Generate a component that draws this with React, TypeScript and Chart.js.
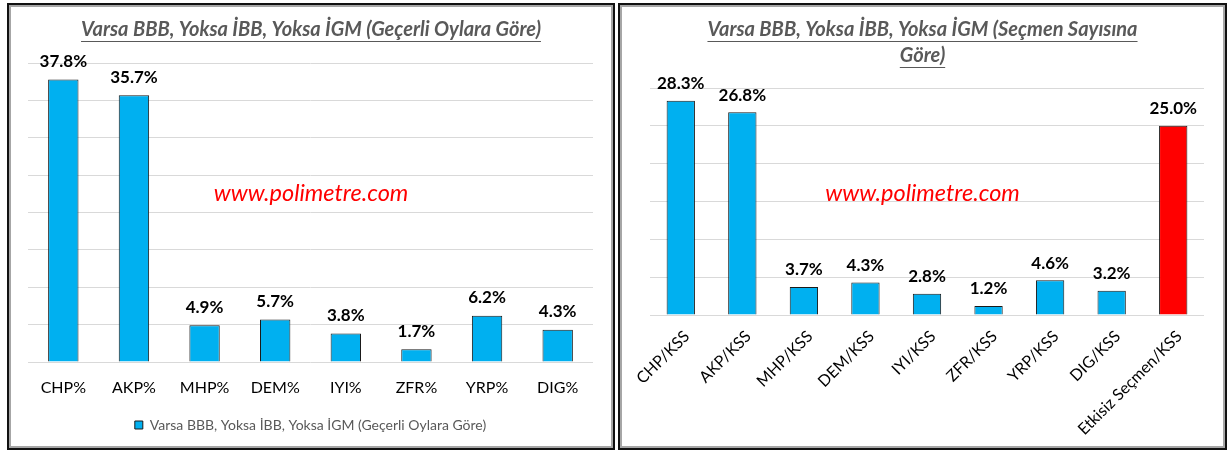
import React, { useEffect, useRef } from 'react';
import { Chart, registerables } from 'chart.js';

Chart.register(...registerables);

// ---------- data ----------
const leftTitle = ['Varsa BBB, Yoksa İBB, Yoksa İGM (Geçerli Oylara Göre)'];
const leftCategories = ['CHP%', 'AKP%', 'MHP%', 'DEM%', 'IYI%', 'ZFR%', 'YRP%', 'DIG%'];
const leftValues = [37.8, 35.7, 4.9, 5.7, 3.8, 1.7, 6.2, 4.3];
const leftLegend = 'Varsa BBB, Yoksa İBB, Yoksa İGM (Geçerli Oylara Göre)';

const rightTitle = ['Varsa BBB, Yoksa İBB, Yoksa İGM (Seçmen Sayısına', 'Göre)'];
const rightCategories = [
  'CHP/KSS', 'AKP/KSS', 'MHP/KSS', 'DEM/KSS', 'IYI/KSS',
  'ZFR/KSS', 'YRP/KSS', 'DIG/KSS', 'Etkisiz Seçmen/KSS',
];
const rightValues = [28.3, 26.8, 3.7, 4.3, 2.8, 1.2, 4.6, 3.2, 25.0];
const rightLegend = 'Varsa BBB, Yoksa İBB, Yoksa İGM (Seçmen Sayısına Göre)';

const watermarkText = 'www.polimetre.com';
const leftAxisMax = 40;
const rightAxisMax = 30;
const axisStep = 5;

// ---------- styles ----------
const BLUE = '#00B0F0';
const RED = '#FF0000';
const FONT = 'Lato, "Open Sans", sans-serif';

const decorPlugin = {
  id: 'decor',
  afterDatasetsDraw(chart: any, _args: any, opts: any) {
    const ctx = chart.ctx;
    ctx.save();
    // data labels
    ctx.font = `bold ${opts.valueSize}px ${FONT}`;
    ctx.fillStyle = '#000';
    ctx.textAlign = 'center';
    ctx.textBaseline = 'middle';
    const meta = chart.getDatasetMeta(0);
    const data = chart.data.datasets[0].data;
    meta.data.forEach((bar: any, i: number) => {
      ctx.fillText(Number(data[i]).toFixed(1) + '%', bar.x, bar.y - opts.valueGap);
    });
    // watermark
    ctx.font = `italic ${opts.wmSize}px ${FONT}`;
    ctx.fillStyle = RED;
    ctx.fillText(watermarkText, opts.wmX, opts.wmY);
    // title
    ctx.font = `italic bold ${opts.titleSize}px ${FONT}`;
    ctx.fillStyle = '#595959';
    ctx.strokeStyle = '#595959';
    ctx.lineWidth = 1;
    (opts.title as string[]).forEach((line, i) => {
      const y = opts.titleY + i * opts.titleLineH;
      ctx.fillText(line, opts.titleX, y);
      const w = ctx.measureText(line).width;
      const uy = Math.round(y + opts.titleSize * 0.55) + 0.5;
      ctx.beginPath();
      ctx.moveTo(opts.titleX - w / 2, uy);
      ctx.lineTo(opts.titleX + w / 2, uy);
      ctx.stroke();
    });
    ctx.restore();
  },
};

type PanelProps = {
  width: number;
  height: number;
  categories: string[];
  values: number[];
  colors: string[];
  legend: string;
  showLegend: boolean;
  axisMax: number;
  barPct: number;
  padding: { left: number; right: number; top: number; bottom: number };
  xHeight: number;
  tickPadding: number;
  labelOffset: number;
  rotation: number;
  title: string[];
  titleY: number;
  wmY: number;
  valueGap: number;
};

function Panel(p: PanelProps) {
  const ref = useRef<HTMLCanvasElement | null>(null);
  useEffect(() => {
    if (!ref.current) return;
    const chart = new Chart(ref.current, {
      type: 'bar',
      data: {
        labels: p.categories,
        datasets: [
          {
            label: p.legend,
            data: p.values,
            backgroundColor: p.colors,
            borderColor: '#1a1a1a',
            borderWidth: 1,
            barPercentage: p.barPct,
            categoryPercentage: 1,
          },
        ],
      },
      options: {
        responsive: false,
        animation: false,
        devicePixelRatio: 1,
        layout: { padding: p.padding },
        plugins: {
          title: { display: false },
          tooltip: { enabled: false },
          legend: {
            display: p.showLegend,
            position: 'bottom',
            labels: {
              boxWidth: 8,
              boxHeight: 8,
              padding: 10,
              color: '#595959',
              font: { family: FONT, size: 14 },
            },
          },
          decor: {
            valueSize: 17,
            valueGap: p.valueGap,
            wmSize: 23.5,
            wmX: p.width / 2,
            wmY: p.wmY,
            titleSize: 20,
            titleX: p.width / 2,
            titleY: p.titleY,
            titleLineH: 26,
            title: p.title,
          },
        } as any,
        scales: {
          x: {
            grid: { display: false },
            border: { display: false },
            ticks: {
              color: '#000',
              font: { family: FONT, size: 16 },
              padding: p.tickPadding,
              labelOffset: p.labelOffset,
              minRotation: p.rotation,
              maxRotation: p.rotation,
              autoSkip: false,
            },
            afterFit: (axis: any) => {
              axis.height = p.xHeight;
            },
          },
          y: {
            min: 0,
            max: p.axisMax,
            ticks: { display: false, stepSize: axisStep },
            grid: { color: '#d9d9d9', drawTicks: false, lineWidth: 1 },
            border: { display: false },
          },
        },
      },
      plugins: [decorPlugin],
    } as any);
    return () => chart.destroy();
  }, []);
  return <canvas ref={ref} width={p.width} height={p.height} style={{ display: 'block', width: p.width, height: p.height }} />;
}

function Frame({ left, width, children }: { left: number; width: number; children: React.ReactNode }) {
  return (
    <div
      style={{
        position: 'absolute',
        left,
        top: 3,
        width,
        height: 447,
        boxSizing: 'border-box',
        border: '2px solid #111',
        background: '#fff',
      }}
    >
      <div style={{ boxSizing: 'border-box', width: '100%', height: '100%', border: '2px solid #a6a6a6' }}>
        {children}
      </div>
    </div>
  );
}

export default function App() {
  return (
    <div style={{ position: 'fixed', left: 0, top: 0, width: 1228, height: 451, background: '#fff', overflow: 'hidden' }}>
      <Frame left={7} width={608}>
        <Panel
          width={600}
          height={439}
          categories={leftCategories}
          values={leftValues}
          colors={leftValues.map(() => BLUE)}
          legend={leftLegend}
          showLegend={true}
          axisMax={leftAxisMax}
          barPct={0.43}
          padding={{ left: 17, right: 18, top: 56, bottom: 4 }}
          xHeight={46}
          tickPadding={8}
          labelOffset={0}
          rotation={0}
          title={leftTitle}
          titleY={23}
          wmY={186}
          valueGap={18}
        />
      </Frame>
      <Frame left={618} width={609}>
        <Panel
          width={601}
          height={439}
          categories={rightCategories}
          values={rightValues}
          colors={rightValues.map((_, i) => (i === rightValues.length - 1 ? RED : BLUE))}
          legend={rightLegend}
          showLegend={false}
          axisMax={rightAxisMax}
          barPct={0.46}
          padding={{ left: 28, right: 19, top: 81, bottom: 0 }}
          xHeight={131}
          tickPadding={4}
          labelOffset={6}
          rotation={45}
          title={rightTitle}
          titleY={23}
          wmY={186}
          valueGap={17}
        />
      </Frame>
    </div>
  );
}
